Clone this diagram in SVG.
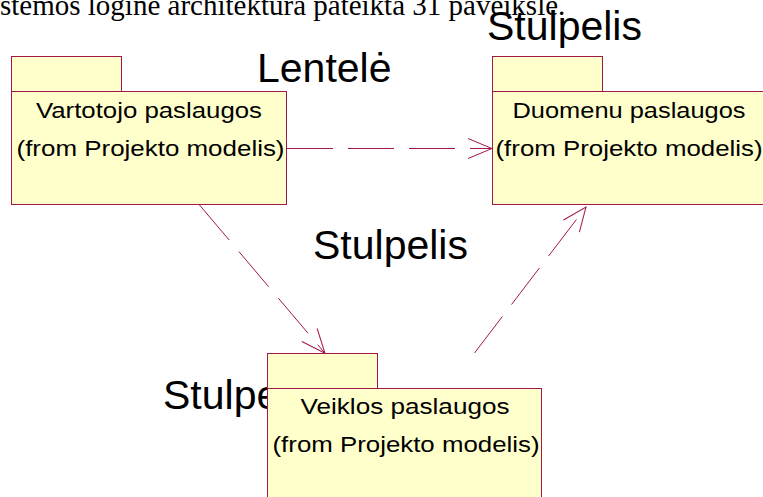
<svg xmlns="http://www.w3.org/2000/svg" width="763" height="497" viewBox="0 0 763 497">
<style>
.bg{fill:#ffffff}
.lbl{font-family:"Liberation Sans",Arial,sans-serif;font-size:41px;fill:#000}
.top{font-family:"Liberation Serif","Times New Roman",serif;font-size:29px;fill:#000}
.pkg rect{fill:#ffffcc;stroke:#a3174c;stroke-width:1}
.pkg text{font-family:"Liberation Sans",Arial,sans-serif;font-size:22px;fill:#000;text-anchor:middle}
.conn line{stroke:#a3174c;stroke-width:1;stroke-dasharray:46 15;fill:none}
</style>
<defs>
<marker id="arr" markerUnits="userSpaceOnUse" markerWidth="30" markerHeight="24" refX="24" refY="11" orient="auto" overflow="visible">
<path d="M0,1 L24,11 L0,21" fill="none" stroke="#a3174c" stroke-width="1"/>
</marker>
</defs>
<rect class="bg" x="0" y="0" width="763" height="497"/>
<text class="top" x="0" y="15">stemos loginė architektūra pateikta 31 paveiksle.</text>
<g id="labels">
<text class="lbl" x="487" y="40">Stulpelis</text>
<text class="lbl" x="257" y="82">Lentelė</text>
<text class="lbl" x="313" y="259">Stulpelis</text>
<text class="lbl" x="163" y="409">Stulpelis</text>
</g>
<g id="connectors" class="conn">
<line x1="287" y1="148.5" x2="492" y2="148.5" marker-end="url(#arr)"/>
<line x1="199.5" y1="205" x2="325" y2="353.3" marker-end="url(#arr)"/>
<line x1="474.5" y1="353" x2="586" y2="207" marker-end="url(#arr)"/>
</g>
<g id="vartotojo" class="pkg">
<rect x="11.5" y="56.5" width="110" height="35"/>
<rect x="11.5" y="91.5" width="275" height="113"/>
<text x="149" y="117.5" textLength="226" lengthAdjust="spacingAndGlyphs">Vartotojo paslaugos</text>
<text x="150.5" y="156" textLength="268" lengthAdjust="spacingAndGlyphs">(from Projekto modelis)</text>
</g>
<g id="duomenu" class="pkg">
<rect x="492.5" y="56.5" width="110" height="35"/>
<rect x="492.5" y="91.5" width="275" height="113"/>
<text x="629" y="117.5" textLength="233" lengthAdjust="spacingAndGlyphs">Duomenu paslaugos</text>
<text x="629" y="156" textLength="267" lengthAdjust="spacingAndGlyphs">(from Projekto modelis)</text>
</g>
<g id="veiklos" class="pkg">
<rect x="267.5" y="353.5" width="110" height="35"/>
<rect x="267.5" y="388.5" width="274" height="113"/>
<text x="405" y="414" textLength="209" lengthAdjust="spacingAndGlyphs">Veiklos paslaugos</text>
<text x="406" y="451.5" textLength="267" lengthAdjust="spacingAndGlyphs">(from Projekto modelis)</text>
</g>
</svg>
